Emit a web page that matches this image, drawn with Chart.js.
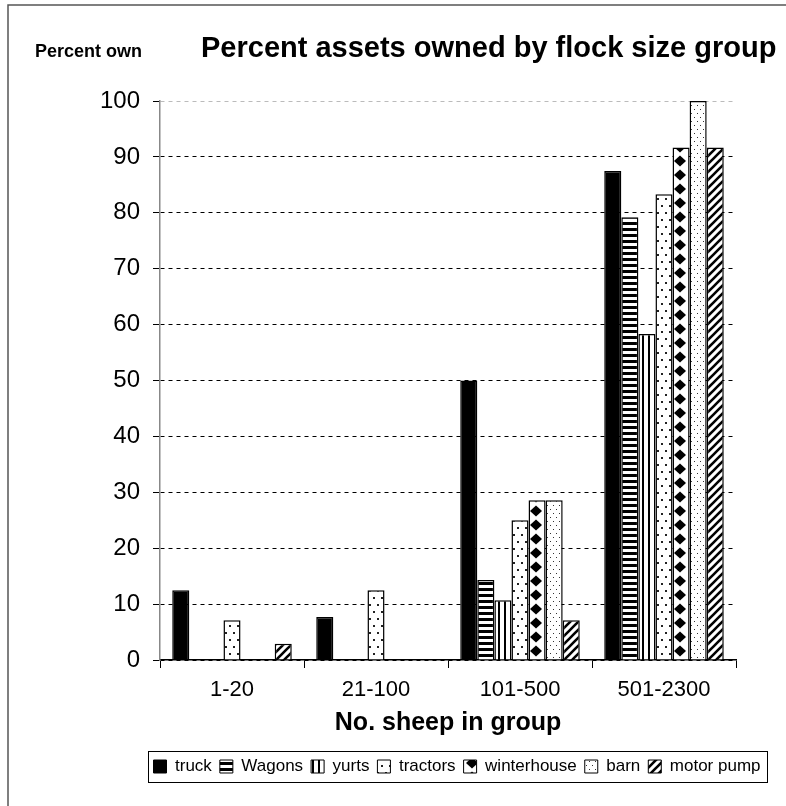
<!DOCTYPE html>
<html lang="en">
<head>
<meta charset="UTF-8">
<title>Percent assets owned by flock size group</title>
<style>
  html, body { margin: 0; padding: 0; background: #fff; }
  #wrap { width: 786px; height: 806px; }
</style>
</head>
<body>
<div id="wrap"><canvas id="assetsChart" width="786" height="806"></canvas></div>

<script src="https://cdn.jsdelivr.net/npm/chart.js@4"></script>
<script>
  // data
  const groups = ['1-20', '21-100', '101-500', '501-2300'];
  const truck = [12.5, 7.7, 50, 87.5];
  const wagons = [0, 0, 14.3, 79.2];
  const yurts = [0, 0, 10.7, 58.3];
  const tractors = [7.1, 12.5, 25, 83.3];
  const winterhouse = [0, 0, 28.6, 91.7];
  const barn = [0, 0, 28.6, 100];
  const motorPump = [2.9, 0, 7.1, 91.7];

  const titleText = 'Percent assets owned by flock size group';
  const yLabel = 'Percent own';
  const xLabel = 'No. sheep in group';

  const FONT = '"Liberation Sans", Arial, sans-serif';

  // black & white fill patterns like the old spreadsheet chart
  function makePattern(w, h, draw) {
      const c = document.createElement('canvas');
      c.width = w; c.height = h;
      const g = c.getContext('2d');
      g.fillStyle = '#fff';
      g.fillRect(0, 0, w, h);
      g.fillStyle = '#000';
      g.strokeStyle = '#000';
      draw(g, w, h);
      return g.createPattern(c, 'repeat');
  }

  const fills = {
      truck: '#000',
      wagons: makePattern(6, 6, g => g.fillRect(0, 0, 6, 3)),
      yurts: makePattern(6, 6, g => g.fillRect(0, 0, 2, 6)),
      tractors: makePattern(8, 14, g => {
          g.fillStyle = '#222';
          g.fillRect(1, 2, 2, 2);
          g.fillRect(5, 9, 2, 2);
      }),
      winterhouse: makePattern(16, 14, g => {
          g.beginPath();
          g.moveTo(8, 1.5); g.lineTo(14, 7); g.lineTo(8, 12.5); g.lineTo(2, 7);
          g.closePath();
          g.fill();
      }),
      barn: makePattern(6, 8, g => {
          g.fillStyle = '#333';
          g.fillRect(1, 1, 1, 1);
          g.fillRect(4, 5, 1, 1);
      }),
      motorPump: makePattern(8, 8, g => {
          g.lineWidth = 2.6;
          g.beginPath();
          g.moveTo(-1, 9); g.lineTo(9, -1);
          g.moveTo(-1, 1); g.lineTo(1, -1);
          g.moveTo(7, 9); g.lineTo(9, 7);
          g.stroke();
      })
  };

  function ds(label, data, fill) {
      return {
          label: label,
          data: data,
          backgroundColor: fill,
          borderColor: '#000',
          // no outline for empty bars, they would sit on the axis
          borderWidth: c => (c.raw === 0 ? 0 : 1.5),
          categoryPercentage: 0.83,
          barPercentage: 1.0
      };
  }

  const LEGEND_SHIFT = 89;

  const decor = {
      id: 'decor',
      afterLayout(chart) {
          // the legend sits right of centre in the original
          chart.legend.left += LEGEND_SHIFT;
          chart.legend.right += LEGEND_SHIFT;
      },
      afterDraw(chart) {
          const ctx = chart.ctx;
          ctx.save();
          // frame of the original sheet
          ctx.strokeStyle = '#555';
          ctx.lineWidth = 1.5;
          ctx.beginPath();
          ctx.moveTo(8, 806); ctx.lineTo(8, 5); ctx.lineTo(786, 5);
          ctx.stroke();

          ctx.fillStyle = '#000';
          ctx.textAlign = 'left';
          ctx.textBaseline = 'alphabetic';
          ctx.font = 'bold 29px ' + FONT;
          ctx.fillText(titleText, 201, 57, 577);
          ctx.font = 'bold 18px ' + FONT;
          ctx.fillText(yLabel, 35, 57, 112);

          // box round the legend
          const hb = chart.legend.legendHitBoxes;
          if (hb && hb.length) {
              const first = hb[0], last = hb[hb.length - 1];
              const l = first.left - 6, r = last.left + last.width + 6;
              const t = first.top - 7, b = first.top + first.height + 7;
              ctx.strokeStyle = '#000';
              ctx.lineWidth = 1;
              ctx.strokeRect(Math.round(l) + 0.5, Math.round(t) + 0.5, Math.round(r - l), Math.round(b - t));
          }
          ctx.restore();
      }
  };

  new Chart(document.getElementById('assetsChart').getContext('2d'), {
      type: 'bar',
      data: {
          labels: groups,
          datasets: [
              ds('truck', truck, fills.truck),
              ds('Wagons', wagons, fills.wagons),
              ds('yurts', yurts, fills.yurts),
              ds('tractors', tractors, fills.tractors),
              ds('winterhouse', winterhouse, fills.winterhouse),
              ds('barn', barn, fills.barn),
              ds('motor pump', motorPump, fills.motorPump)
          ]
      },
      options: {
          responsive: false,
          animation: false,
          layout: { padding: { left: 0, top: 101, right: 50, bottom: 21 } },
          plugins: {
              title: { display: false },
              tooltip: { enabled: false },
              legend: {
                  position: 'bottom',
                  labels: {
                      boxWidth: 13,
                      boxHeight: 13,
                      padding: 8,
                      color: '#000',
                      font: { family: FONT, size: 17 },
                      generateLabels: chart => {
                          const items = Chart.defaults.plugins.legend.labels.generateLabels(chart);
                          items.forEach(it => { it.lineWidth = 1; it.strokeStyle = '#000'; });
                          return items;
                      }
                  }
              }
          },
          scales: {
              x: {
                  afterFit: s => { s.height = 90; },
                  grid: {
                      offset: true,
                      drawOnChartArea: false,
                      drawTicks: true,
                      tickLength: 8,
                      color: '#000'
                  },
                  border: { color: '#000', width: 1.5 },
                  ticks: {
                      color: '#000',
                      padding: 9,
                      font: { family: FONT, size: 22 }
                  },
                  title: {
                      display: true,
                      text: xLabel,
                      color: '#000',
                      padding: { top: 2, bottom: 12 },
                      font: { family: FONT, size: 25, weight: 'bold' }
                  }
              },
              y: {
                  min: 0,
                  max: 100,
                  afterFit: s => { s.width = 160; },
                  ticks: {
                      stepSize: 10,
                      color: '#000',
                      padding: 13,
                      font: { family: FONT, size: 24 }
                  },
                  grid: {
                      color: c => (c.tick && c.tick.value === 100) ? '#bbb' : '#000',
                      tickColor: '#000',
                      tickLength: 7,
                      tickBorderDash: [],
                      lineWidth: 1
                  },
                  border: { color: '#888', width: 1.5, dash: [4, 4] }
              }
          }
      },
      plugins: [decor]
  });
</script>
</body>
</html>
